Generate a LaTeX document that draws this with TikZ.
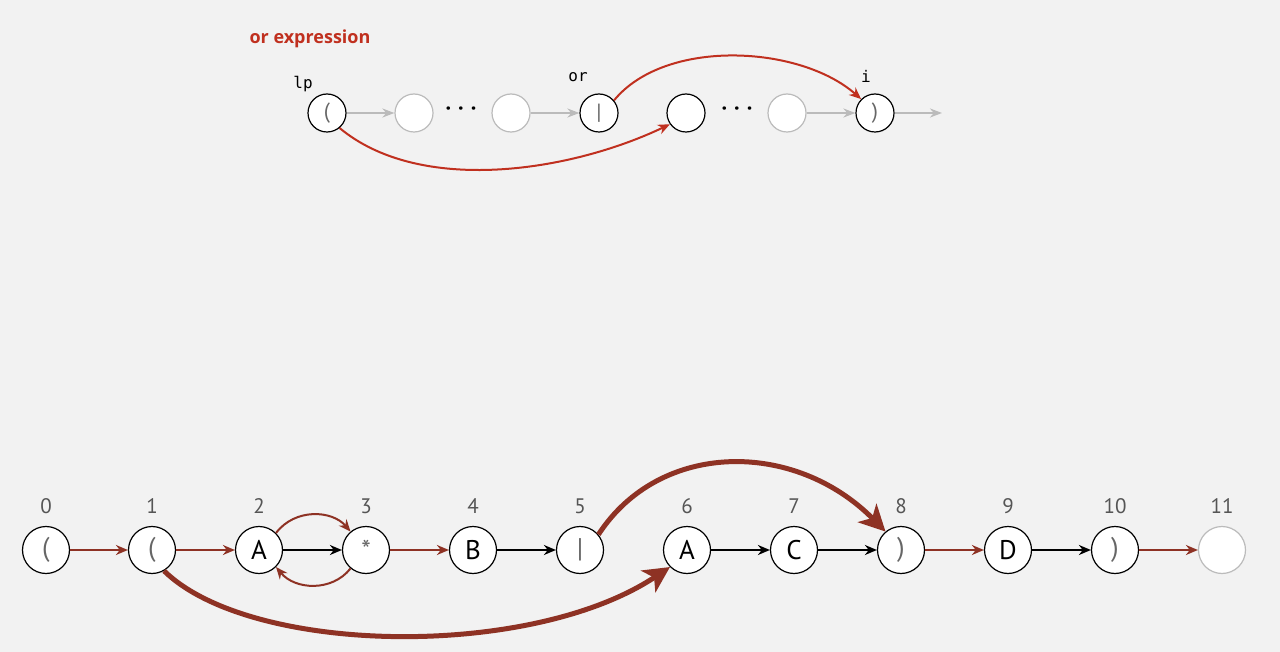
\documentclass[tikz,border=0pt]{standalone}
\usepackage{fontspec}
\setmainfont{PT Sans}
\newfontfamily\titlef{Open Sans}
\newfontfamily\monof{DejaVu Sans Mono}
\usetikzlibrary{arrows.meta}
\definecolor{bg}{HTML}{F2F2F2}
\definecolor{topred}{HTML}{C0301F}
\definecolor{brn}{HTML}{8E3224}
\definecolor{lgray}{HTML}{BBBBBB}
\definecolor{symgray}{HTML}{666666}
\definecolor{numgray}{HTML}{555555}
\tikzset{
  bnode/.style={circle,draw=black,fill=white,line width=1.2pt,minimum size=47pt,inner sep=0pt,font=\fontsize{27}{27}\selectfont},
  bnodeg/.style={bnode,draw=lgray},
  tnode/.style={circle,draw=black,fill=white,line width=1.2pt,minimum size=38pt,inner sep=0pt,font=\fontsize{22}{22}\selectfont},
  tnodeg/.style={tnode,draw=lgray},
  num/.style={font=\fontsize{21}{21}\selectfont,text=numgray},
  lab/.style={font=\monof\fontsize{16}{16}\selectfont},
  redar/.style={draw=brn,line width=2pt,-{Stealth[length=12pt,width=10pt]}},
  blkar/.style={draw=black,line width=2.2pt,-{Stealth[length=12pt,width=10pt]}},
  grar/.style={draw=lgray,line width=2pt,-{Stealth[length=12pt,width=9pt]}},
  trar/.style={draw=topred,line width=2pt,-{Stealth[length=12pt,width=10pt]}},
  thick/.style={draw=brn,line width=5pt,-{Stealth[length=26pt,width=26pt,inset=7pt]}},
  dots/.style={font=\bfseries\fontsize{22}{22}\selectfont,inner sep=0pt}
}
\begin{document}
\begin{tikzpicture}[x=1pt,y=-1pt]
\fill[bg] (0,0) rectangle (1280,652);
\useasboundingbox (0,0) rectangle (1280,652);
% top diagram
\node[font=\titlef\bfseries\fontsize{18}{18}\selectfont,text=topred,anchor=west] (title) at (246,39) {or expression};
\node[tnode] (t1) at (327,113) {\textcolor{symgray}{(}};
\node[tnodeg] (t2) at (414,113) {};
\node[tnodeg] (t3) at (511,113) {};
\node[tnode] (t4) at (599,113) {\textcolor{symgray}{|}};
\node[tnode] (t5) at (686,113) {};
\node[tnodeg] (t6) at (787,113) {};
\node[tnode] (t7) at (875,113) {\textcolor{symgray}{)}};
\coordinate (tend) at (942,113);
\node[dots] (d1) at (461,111) {·\hspace{7pt}·\hspace{7pt}·};
\node[dots] (d2) at (737,111) {·\hspace{7pt}·\hspace{7pt}·};
\node[lab] (llp) at (303,84) {lp};
\node[lab] (lor) at (578,77) {or};
\node[lab] (li) at (866,76) {i};
\draw[grar] (t1) -- (t2);
\draw[grar] (t3) -- (t4);
\draw[grar] (t6) -- (t7);
\draw[grar] (t7) -- (tend);
\draw[trar] (t1.-50) .. controls (420,195) and (570,172) .. (t5.-145);
\draw[trar] (t4.40) .. controls (665,38) and (800,45) .. (t7.135);
% bottom diagram
\foreach \i/\x/\t/\s in {0/46/(/sym,1/152/(/sym,2/259/A/,3/366/*/sym,4/473/B/,5/580/|/sym,6/687/A/,7/794/C/,8/901/)/sym,9/1008/D/,10/1115/)/sym}{
  \node[bnode] (n\i) at (\x,550) {\ifx\s\empty\t\else\textcolor{symgray}{\t}\fi};
  \node[num] (m\i) at (\x,506) {\i};
}
\node[bnodeg] (n11) at (1222,550) {};
\node[num] (m11) at (1222,506) {11};
\draw[redar] (n0) -- (n1);
\draw[redar] (n1) -- (n2);
\draw[blkar] (n2) -- (n3);
\draw[redar] (n3) -- (n4);
\draw[blkar] (n4) -- (n5);
\draw[blkar] (n6) -- (n7);
\draw[blkar] (n7) -- (n8);
\draw[redar] (n8) -- (n9);
\draw[blkar] (n9) -- (n10);
\draw[redar] (n10) -- (n11);
\draw[redar] (n2.45) .. controls (295,508) and (332,510) .. (n3.130);
\draw[redar] (n3.-130) .. controls (332,592) and (295,590) .. (n2.-45);
\draw[thick] (n1.-60) .. controls (250,655) and (530,660) .. (n6.-135);
\draw[thick] (n5.40) .. controls (660,440) and (795,440) .. (n8.130);
\end{tikzpicture}
\end{document}
